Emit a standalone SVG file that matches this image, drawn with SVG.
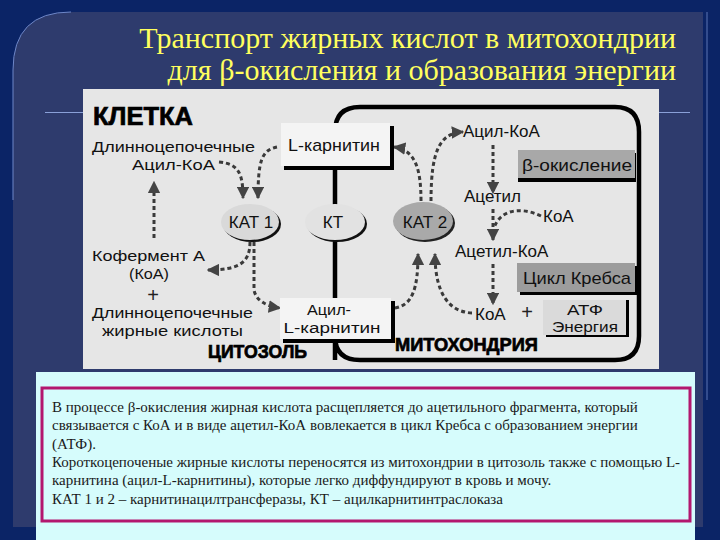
<svg xmlns="http://www.w3.org/2000/svg" width="720" height="540" viewBox="0 0 720 540">
<defs>
<style>
.t{font-family:"Liberation Sans",Arial,sans-serif;font-size:17px;fill:#111}
.s{font-size:15.5px}
.b{font-family:"Liberation Sans",Arial,sans-serif;font-weight:bold;fill:#000;stroke:#000;stroke-width:0.7}
.title{font-family:"Liberation Serif","DejaVu Serif",serif;font-size:30px;fill:#ffff5e;text-anchor:end}
.body{font-family:"Liberation Serif","Times New Roman",serif;font-size:15px;fill:#1a1a1a}
.d{fill:none;stroke:#3a3a3a;stroke-width:3;stroke-dasharray:4 3}
.da{fill:none;stroke:#3a3a3a;stroke-width:3;stroke-dasharray:4 3;marker-end:url(#ah)}
.sh{fill:#000}
.m{text-anchor:middle}
.plus{font-family:"Liberation Sans",Arial,sans-serif;font-size:20px;fill:#222;text-anchor:middle}
</style>
<marker id="ah" viewBox="0 0 10 10" refX="9" refY="5" markerWidth="4.2" markerHeight="4.2" orient="auto" markerUnits="strokeWidth">
<path d="M0,0 L10,5 L0,10 z" fill="#444"/>
</marker>
</defs>

<g id="background">
<rect x="0" y="0" width="720" height="540" fill="#0b2466"/>
<path d="M13,527 L13,70 Q13,12 71,12 L703,12 L703,527 Z" fill="#2e3b6d"/>
<path d="M13,200 L13,70 Q13,12 71,12" fill="none" stroke="#6d86c8" stroke-width="1"/>
<line x1="707" y1="12" x2="707" y2="400" stroke="#5c74b4" stroke-width="1"/>
<line x1="45" y1="112.5" x2="690" y2="112.5" stroke="#8aa0d8" stroke-width="1"/>
</g>

<g id="title">
<text class="title" x="676" y="48">Транспорт жирных кислот в митохондрии</text>
<text class="title" x="676" y="80">для β-окисления и образования энергии</text>
</g>

<g id="figure">
<rect x="83" y="89" width="576" height="280" fill="#e6e6e6"/>
<text class="b" x="93" y="125" font-size="25" textLength="100" lengthAdjust="spacingAndGlyphs">КЛЕТКА</text>
<text class="b" x="208" y="358" font-size="18" textLength="99" lengthAdjust="spacingAndGlyphs">ЦИТОЗОЛЬ</text>

<path id="membrane" d="M335,360 L335,132 Q335,107 360,107 L615,107 Q639,107 639,132 L639,336 Q639,360 615,360 L360,360 Q335,360 335,336" fill="none" stroke="#000" stroke-width="4.5"/>
<rect x="392" y="334" width="150" height="20" fill="#e6e6e6"/>
<text class="b" x="395" y="351" font-size="18" textLength="143" lengthAdjust="spacingAndGlyphs">МИТОХОНДРИЯ</text>
</g>

<g id="connectors">
<path class="da" d="M219,162 C238,164 243,172 243,198"/>
<path class="da" d="M277,147 C262,150 258,160 258,198"/>
<path class="da" d="M154,238 L154,182"/>
<path class="da" d="M250,242 C250,262 240,270 208,270"/>
<path class="da" d="M254,242 L254,290 C256,300 265,306 280,308"/>
<path class="da" d="M421,201 C421,168 415,150 394,147"/>
<path class="da" d="M431,201 C431,150 440,133 463,132"/>
<path class="da" d="M493,145 L493,193"/>
<path class="da" d="M493,209 L493,240"/>
<path class="d" d="M541,216 C520,206 500,210 494,228"/>
<path class="da" d="M493,264 L493,304"/>
<path class="da" d="M395,308 C412,305 418,290 418,254"/>
<path class="da" d="M472,313 C450,312 435,295 435,254"/>
</g>

<g id="n-lcarnitine">
<rect class="sh" x="284" y="126" width="110" height="44"/>
<rect x="281" y="123" width="109" height="43" fill="#f4f4f4"/>
<text class="t m" x="334" y="151" textLength="92" lengthAdjust="spacingAndGlyphs">L-карнитин</text>
</g>

<g id="n-acylcarnitine">
<rect class="sh" x="283" y="301" width="112" height="42"/>
<rect x="280" y="298" width="111" height="41" fill="#f4f4f4"/>
<text class="t s m" x="329" y="315" textLength="44" lengthAdjust="spacingAndGlyphs">Ацил-</text>
<text class="t s m" x="332" y="333" textLength="97" lengthAdjust="spacingAndGlyphs">L-карнитин</text>
</g>

<g id="n-kat1">
<ellipse cx="252" cy="224" rx="29" ry="18" fill="#111"/>
<ellipse cx="250" cy="222" rx="29" ry="18" fill="#d9d9d9"/>
<text class="t m" x="251" y="228">КАТ 1</text>
</g>

<g id="n-kt">
<ellipse cx="337" cy="224" rx="30" ry="18" fill="#111"/>
<ellipse cx="335" cy="222" rx="30" ry="18" fill="#e2e2e2"/>
<text class="t m" x="333" y="228">КТ</text>
</g>

<g id="n-kat2">
<ellipse cx="425" cy="223" rx="30" ry="19" fill="#222"/>
<ellipse cx="423" cy="221" rx="30" ry="19" fill="#a9a9a9"/>
<text class="t m" x="425" y="228">КАТ 2</text>
</g>

<g id="n-longacylcoa">
<text class="t s" x="92" y="152" textLength="163" lengthAdjust="spacingAndGlyphs">Длинноцепочечные</text>
<text class="t s" x="132" y="170" textLength="83" lengthAdjust="spacingAndGlyphs">Ацил-КоА</text>
</g>

<g id="n-coa-fa">
<text class="t s" x="92" y="261" textLength="113" lengthAdjust="spacingAndGlyphs">Кофермент А</text>
<text class="t s m" x="149" y="279" textLength="40" lengthAdjust="spacingAndGlyphs">(КоА)</text>
<text class="plus" x="153" y="302">+</text>
<text class="t s" x="92" y="318" textLength="161" lengthAdjust="spacingAndGlyphs">Длинноцепочечные</text>
<text class="t s" x="102" y="336" textLength="141" lengthAdjust="spacingAndGlyphs">жирные кислоты</text>
</g>

<g id="n-acylcoa">
<text class="t" x="463" y="137">Ацил-КоА</text>
</g>

<g id="n-beta">
<rect class="sh" x="518" y="153" width="118" height="29"/>
<rect x="518" y="150" width="117" height="28" fill="#a8a8a8"/>
<text class="t m" x="577" y="171" textLength="110" lengthAdjust="spacingAndGlyphs">β-окисление</text>
</g>

<g id="n-acetyl">
<text class="t" x="464" y="202">Ацетил</text>
<text class="t" x="543" y="222">КоА</text>
</g>

<g id="n-acetylcoa">
<text class="t" x="455" y="257">Ацетил-КоА</text>
</g>

<g id="n-krebs">
<rect class="sh" x="520" y="266" width="118" height="29"/>
<rect x="517" y="263" width="118" height="29" fill="#9c9c9c"/>
<text class="t m" x="577" y="284" textLength="108" lengthAdjust="spacingAndGlyphs">Цикл Кребса</text>
</g>

<g id="n-coa-bottom">
<text class="t" x="475" y="320">КоА</text>
<text class="plus" x="527" y="319">+</text>
</g>

<g id="n-atp">
<rect class="sh" x="546" y="300" width="83" height="37"/>
<rect x="543" y="300" width="83" height="35" fill="#dadada"/>
<text class="t m" x="585" y="315" style="font-size:15.5px" textLength="36" lengthAdjust="spacingAndGlyphs">АТФ</text>
<text class="t m" x="585" y="332" style="font-size:15.5px" textLength="66" lengthAdjust="spacingAndGlyphs">Энергия</text>
</g>

<g id="note">
<rect x="36" y="372" width="659" height="168" fill="#d6fcfc"/>
<rect x="42" y="388" width="648" height="133" fill="none" stroke="#b3176e" stroke-width="3"/>
<text class="body" x="52" y="412">В процессе β-окисления жирная кислота расщепляется до ацетильного фрагмента, который</text>
<text class="body" x="52" y="430">связывается с КоА и в виде ацетил-КоА вовлекается в цикл Кребса с образованием энергии</text>
<text class="body" x="52" y="449">(АТФ).</text>
<text class="body" x="52" y="467">Короткоцепоченые жирные кислоты переносятся из митохондрии в цитозоль также с помощью L-</text>
<text class="body" x="52" y="485">карнитина (ацил-L-карнитины), которые легко диффундируют в кровь и мочу.</text>
<text class="body" x="52" y="504">КАТ 1 и 2 – карнитинацилтрансферазы, КТ – ацилкарнитинтраслоказа</text>
</g>
</svg>
